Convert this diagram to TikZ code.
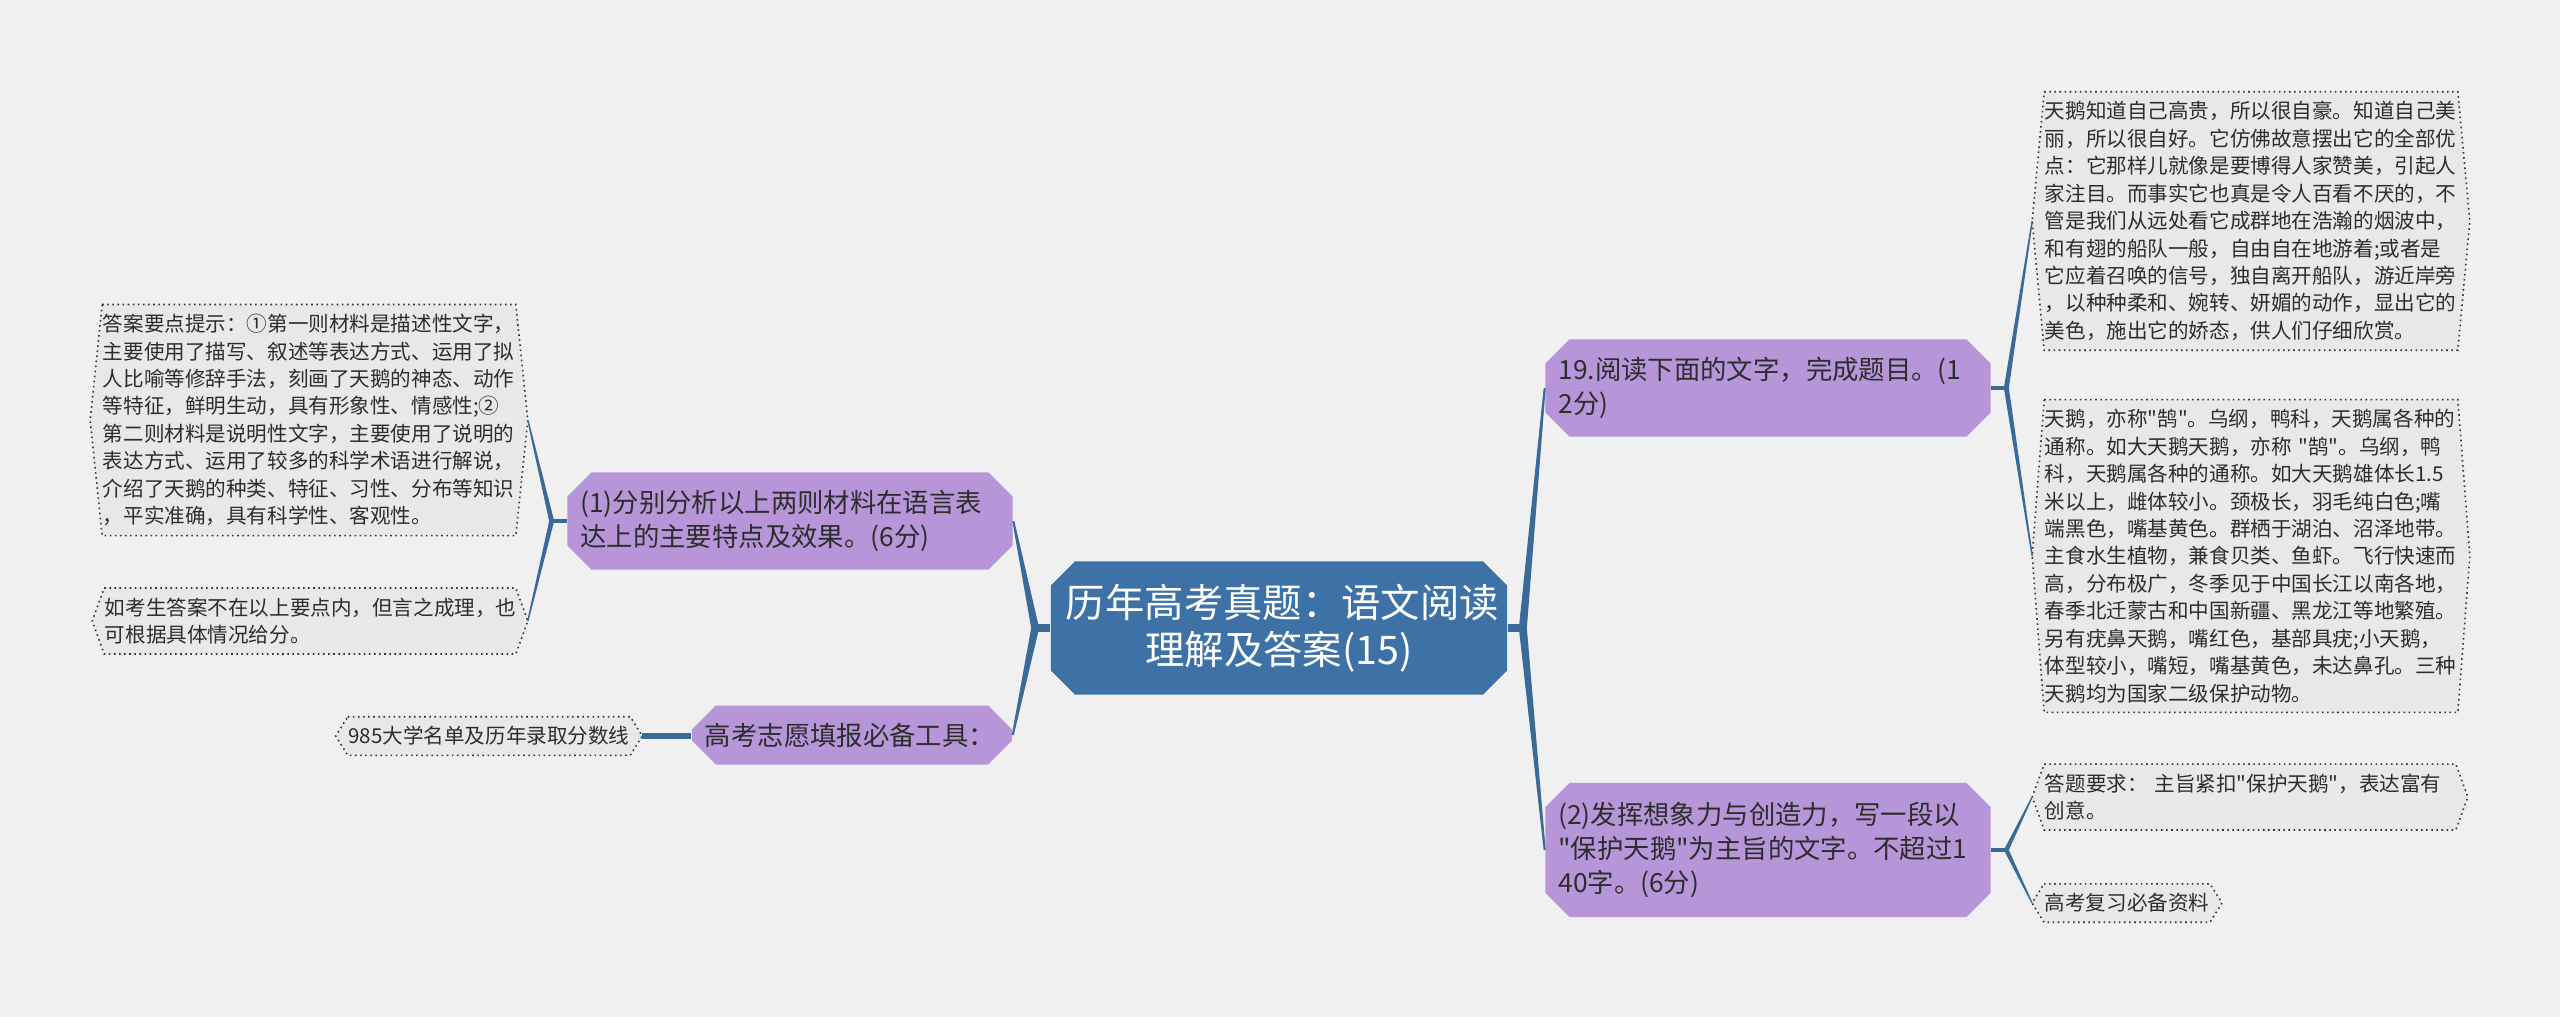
\documentclass[tikz,border=0pt]{standalone}
\usepackage{fontspec}
\setmainfont{Noto Sans CJK SC}
\setmonofont{Noto Sans CJK SC}
\newcommand\plainquote{{\ttfamily"}}
\usepackage{xcolor}
\definecolor{canvas}{RGB}{240,240,240}
\definecolor{rootblue}{RGB}{62,114,166}
\definecolor{topicpurple}{RGB}{182,150,216}
\definecolor{linkblue}{RGB}{58,106,152}
\definecolor{leafgray}{RGB}{232,232,232}
\definecolor{inkgray}{RGB}{45,45,45}
\usetikzlibrary{shapes.misc,calc,backgrounds}

\tikzset{
  mindroot/.style = {
    chamfered rectangle,
    chamfered rectangle xsep = 0.12cm,
    chamfered rectangle ysep = 0.12cm,
    fill           = rootblue,
    text           = white,
    inner xsep     = 0.03cm,
    inner ysep     = 0.03cm,
    text width     = 4.26cm,
    minimum height = 1.33cm,
    align          = center,
    font           = \fontsize{11.2pt}{13.4pt}\selectfont
  },
  topic/.style = {
    chamfered rectangle,
    chamfered rectangle xsep = 0.12cm,
    chamfered rectangle ysep = 0.12cm,
    fill        = topicpurple,
    text        = inkgray,
    inner xsep  = 0.01cm,
    inner ysep  = 0.03cm,
    text width  = 4.19cm,
    align       = left,
    font        = \fontsize{7.5pt}{9.7pt}\selectfont
  },
  leaf/.style = {
    inner xsep  = 0pt,
    inner ysep  = 0.09cm,
    text        = inkgray,
    align       = left,
    font        = \fontsize{5.85pt}{7.8pt}\selectfont
  },
  leafframe/.style = {fill=leafgray, draw=black!80, densely dotted, line width=0.45pt},
  branch/.style = {fill=linkblue},
  twig/.style = {fill=linkblue}
}

\begin{document}
\begin{tikzpicture}[x=0.01cm, y=-0.01cm]
  \useasboundingbox (0,0) rectangle (2560,1017);
  \begin{pgfonlayer}{background}
    \fill[canvas] (0,0) rectangle (2560,1017);
  \end{pgfonlayer}

  \node[mindroot] (root) at (1279,628) {历年高考真题：语文阅读\\理解及答案(15)};

  \node[topic, minimum height=0.97cm] (q19) at (1768,388) {19.阅读下面的文字，完成题目。(1\\2分)};
  \node[topic, minimum height=1.34cm] (q2) at (1768,850) {(2)发挥想象力与创造力，写一段以\\\plainquote 保护天鹅\plainquote 为主旨的文字。不超过1\\40字。(6分)};
  \node[topic, minimum height=0.97cm] (q1) at (790,521) {(1)分别分析以上两则材料在语言表\\达上的主要特点及效果。(6分)};
  \node[topic, text width=2.94cm, minimum height=0.59cm] (tools) at (852,735) {高考志愿填报必备工具：};

  \node[leaf, text width=4.12cm] (swanA) at (2251,221) {天鹅知道自己高贵，所以很自豪。知道自己美\\丽，所以很自好。它仿佛故意摆出它的全部优\\点：它那样儿就像是要博得人家赞美，引起人\\家注目。而事实它也真是令人百看不厌的，不\\管是我们从远处看它成群地在浩瀚的烟波中，\\和有翅的船队一般，自由自在地游着;或者是\\它应着召唤的信号，独自离开船队，游近岸旁\\，以种种柔和、婉转、妍媚的动作，显出它的\\美色，施出它的娇态，供人们仔细欣赏。};
  \node[leaf, text width=4.12cm] (swanB) at (2251,556) {天鹅，亦称\plainquote 鹄\plainquote 。乌纲，鸭科，天鹅属各种的\\通称。如大天鹅天鹅，亦称~\plainquote 鹄\plainquote 。乌纲，鸭\\科，天鹅属各种的通称。如大天鹅雄体长1.5\\米以上，雌体较小。颈极长，羽毛纯白色;嘴\\端黑色，嘴基黄色。群栖于湖泊、沼泽地带。\\主食水生植物，兼食贝类、鱼虾。飞行快速而\\高，分布极广，冬季见于中国长江以南各地，\\春季北迁蒙古和中国新疆、黑龙江等地繁殖。\\另有疣鼻天鹅，嘴红色，基部具疣;小天鹅，\\体型较小，嘴短，嘴基黄色，未达鼻孔。三种\\天鹅均为国家二级保护动物。};
  \node[leaf, text width=4.10cm] (req) at (2250,797) {答题要求：~主旨紧扣\plainquote 保护天鹅\plainquote ，表达富有\\创意。};
  \node[leaf] (review) at (2127,903) {高考复习必备资料};
  \node[leaf, text width=4.12cm] (hint) at (309,420) {答案要点提示：①第一则材料是描述性文字，\\主要使用了描写、叙述等表达方式、运用了拟\\人比喻等修辞手法，刻画了天鹅的神态、动作\\等特征，鲜明生动，具有形象性、情感性;②\\第二则材料是说明性文字，主要使用了说明的\\表达方式、运用了较多的科学术语进行解说，\\介绍了天鹅的种类、特征、习性、分布等知识\\，平实准确，具有科学性、客观性。};
  \node[leaf, text width=4.10cm] (alt) at (310,621) {如考生答案不在以上要点内，但言之成理，也\\可根据具体情况给分。};
  \node[leaf] (rank) at (489,736) {985大学名单及历年录取分数线};

  \begin{pgfonlayer}{background}
    \foreach \n in {swanA,swanB,req,review,hint,alt,rank}
      \filldraw[leafframe] (\n.north west) -- (\n.north east) -- ($(\n.east)+(12,0)$)
        -- (\n.south east) -- (\n.south west) -- ($(\n.west)+(-12,0)$) -- cycle;
  \end{pgfonlayer}

  \coordinate (rj) at ($(root.east)+(15,0)$);
  \coordinate (lj) at ($(root.west)+(-15,0)$);
  \fill[branch] ($(root.east)+(0,-4)$) rectangle ($(rj)+(0,4)$);
  \fill[branch] ($(root.west)+(0,-4)$) rectangle ($(lj)+(0,4)$);
  \foreach \a/\b in {rj/q19.west, rj/q2.west, lj/q1.east, lj/tools.east}
    \fill[branch] ($(\a)+(-4,0)$) -- ($(\b)+(-1,0)$) -- ($(\b)+(1,0)$) -- ($(\a)+(4,0)$) -- cycle;

  \coordinate (j19) at ($(q19.east)+(15,0)$);
  \coordinate (j2) at ($(q2.east)+(15,0)$);
  \coordinate (j1) at ($(q1.west)+(-15,0)$);
  \fill[twig] ($(q19.east)+(0,-2)$) rectangle ($(j19)+(0,2)$);
  \fill[twig] ($(q2.east)+(0,-2)$) rectangle ($(j2)+(0,2)$);
  \fill[twig] ($(q1.west)+(0,-2)$) rectangle ($(j1)+(0,2)$);
  \foreach \a/\b/\s in {j19/swanA.west/-12, j19/swanB.west/-12, j2/req.west/-12, j2/review.west/-12, j1/hint.east/12, j1/alt.east/12}
    \fill[twig] ($(\a)+(-2.5,0)$) -- ($(\b)+(\s-0.7,0)$) -- ($(\b)+(\s+0.7,0)$) -- ($(\a)+(2.5,0)$) -- cycle;
  \fill[twig] ($(tools.west)+(0,-2.5)$) rectangle ($(rank.east)+(12,2.5)$);
\end{tikzpicture}
\end{document}
